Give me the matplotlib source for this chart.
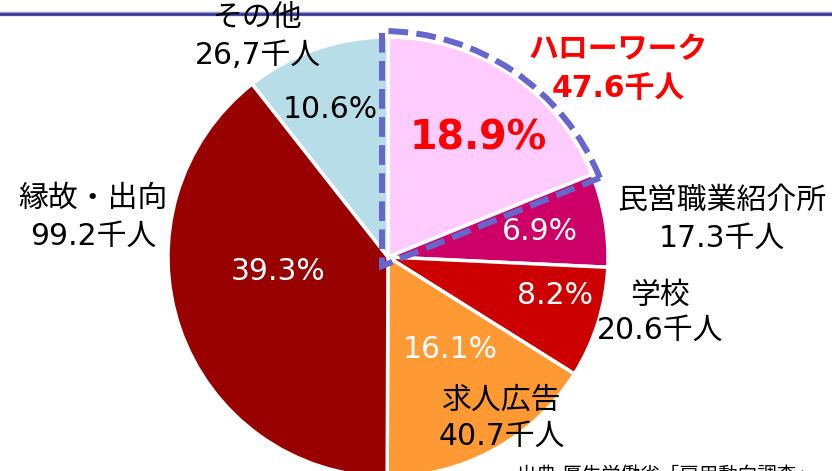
import matplotlib
matplotlib.use("Agg")
import matplotlib.pyplot as plt
from matplotlib.patches import Wedge

plt.rcParams['font.family'] = ['DejaVu Sans', 'Noto Sans CJK JP']

# ---- data ----
categories = ["ハローワーク", "民営職業紹介所", "学校", "求人広告", "縁故・出向", "その他"]
counts = [47.6, 17.3, 20.6, 40.7, 99.2, 26.7]
count_labels = ["47.6千人", "17.3千人", "20.6千人", "40.7千人", "99.2千人", "26,7千人"]
pct_labels = ["18.9%", "6.9%", "8.2%", "16.1%", "39.3%", "10.6%"]
source_text = "出典 厚生労働省「雇用動向調査」"

# ---- style ----
colors = ["#FFCCFF", "#CC0066", "#CC0000", "#FF9933", "#990000", "#B7DEE8"]
pct_colors = ["#FF0000", "white", "white", "white", "white", "black"]
W, H = 832, 471
center_px = (388, 257)
radius = 220

# label layout (pixel coords: x, y from top)
name_pos = [(618, 50), (722, 200), (660, 295), (502, 400), (93, 198), (258, 18)]
count_pos = [(618, 88), (722, 238), (660, 330), (502, 436), (93, 236), (258, 55)]
pct_pos = [(478, 138), (540, 232), (555, 296), (450, 350), (278, 272), (330, 110)]

fig = plt.figure(figsize=(W / 100, H / 100), dpi=100)
ax = fig.add_axes([0, 0, 1, 1])
ax.set_xlim(0, W)
ax.set_ylim(0, H)
ax.axis('off')

cx, cy = center_px[0], H - center_px[1]
wedges, _ = ax.pie(counts, colors=colors, startangle=90, counterclock=False,
                   center=(cx, cy), radius=radius, frame=True,
                   wedgeprops=dict(edgecolor='white', linewidth=2.5))
ax.set_xlim(0, W)
ax.set_ylim(0, H)
ax.set_aspect('equal')
ax.axis('off')

# dashed highlight around first wedge
w0 = wedges[0]
hl = Wedge((cx - 6, cy - 9), radius + 15, w0.theta1, w0.theta2, fill=False,
           edgecolor='#6666CC', linewidth=4.3, linestyle=(0, (3.3, 1.4)),
           capstyle='butt', zorder=5)
ax.add_patch(hl)

# top line
ax.axhline(H - 14, color='#9999CC', lw=3.2, zorder=1)
ax.axhline(H - 14, color='#333399', lw=1.8, zorder=2)

fs = 21.5
for i, cat in enumerate(categories):
    if i == 0:
        kw = dict(color='#FF0000', fontweight='bold')
    else:
        kw = dict(color='black')
    x, y = name_pos[i]
    ax.text(x, H - y, cat, ha='center', va='center', fontsize=fs, zorder=6, **kw)
    x, y = count_pos[i]
    ax.text(x, H - y, count_labels[i], ha='center', va='center', fontsize=fs, zorder=6, **kw)
    x, y = pct_pos[i]
    if i == 0:
        ax.text(x, H - y, pct_labels[i], ha='center', va='center', fontsize=28.5,
                fontweight='bold', color=pct_colors[i], zorder=6)
    else:
        ax.text(x, H - y, pct_labels[i], ha='center', va='center', fontsize=fs,
                color=pct_colors[i], zorder=6)

ax.text(517, H - 466, source_text, ha='left', va='top', fontsize=14, color='black', zorder=6)

fig.savefig("out.png", dpi=100)
